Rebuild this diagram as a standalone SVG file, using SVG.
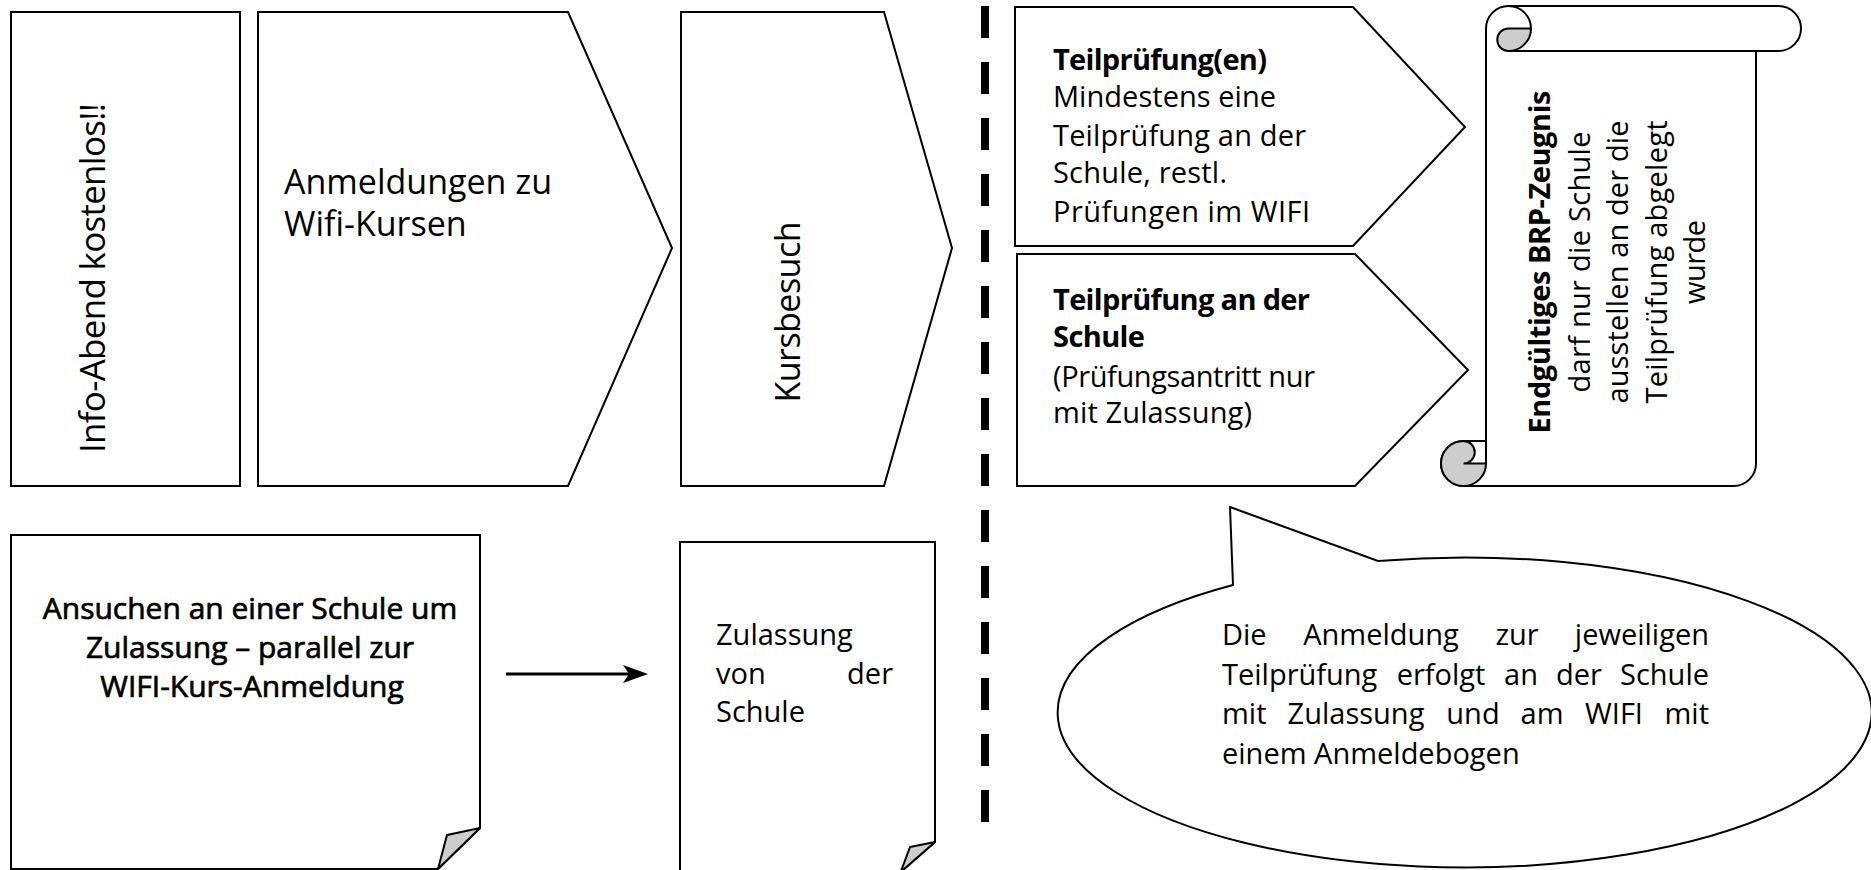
<svg xmlns="http://www.w3.org/2000/svg" width="1871" height="870" viewBox="0 0 1871 870">
<style>
.s{fill:#fff;stroke:#000;stroke-width:2;stroke-linejoin:miter}
.g{fill:#cdcdcd;stroke:#000;stroke-width:2;stroke-linejoin:round}
.ln{fill:none;stroke:#000;stroke-width:2}
.t{font-family:"Open Sans","Noto Sans",sans-serif;font-size:29px;fill:#000}
.b{font-weight:700}
.m{font-size:30px;stroke:#000;stroke-width:0.7px}
.f34{font-size:34px}
.f35{font-size:35px}
.mid{text-anchor:middle}
.end{text-anchor:end}
</style>
<defs>
<marker id="ah" markerUnits="userSpaceOnUse" markerWidth="26" markerHeight="20" refX="9" refY="10" orient="auto">
<path d="M0,1 L25,10 L0,19 L6,10 Z" fill="#000"/>
</marker>
</defs>
<rect width="1871" height="870" fill="#fff"/>

<g id="info">
<rect class="s" x="11" y="12" width="229" height="474"/>
<text class="t f35 mid" transform="translate(105,278) rotate(-90)" textLength="350">Info-Abend kostenlos!!</text>
</g>

<g id="anmeldungen">
<polygon class="s" points="258,12 568,12 672,248 568,486 258,486"/>
<text class="t f34" x="284" y="194">Anmeldungen zu</text>
<text class="t f34" x="284" y="236">Wifi-Kursen</text>
</g>

<g id="kursbesuch">
<polygon class="s" points="681,12 884,12 952,248 884,486 681,486"/>
<text class="t f34 mid" transform="translate(800,312) rotate(-90)" textLength="181">Kursbesuch</text>
</g>

<g id="divider">
<line x1="985" y1="6" x2="985" y2="822" stroke="#000" stroke-width="8" stroke-dasharray="32 24"/>
</g>

<g id="teilpruefungen">
<polygon class="s" points="1015,7 1353,7 1465,127 1353,246 1015,246"/>
<text class="t b" x="1053" y="70" textLength="214">Teilprüfung(en)</text>
<text class="t" x="1053" y="107" textLength="223">Mindestens eine</text>
<text class="t" x="1053" y="146" textLength="253">Teilprüfung an der</text>
<text class="t" x="1053" y="183" textLength="174">Schule, restl.</text>
<text class="t" x="1053" y="222" textLength="257">Prüfungen im WIFI</text>
</g>

<g id="teilpruefung-schule">
<polygon class="s" points="1017,254 1355,254 1468,370 1355,486 1017,486"/>
<text class="t b" x="1053" y="310" textLength="257">Teilprüfung an der</text>
<text class="t b" x="1053" y="347" textLength="92">Schule</text>
<text class="t" x="1053" y="387" textLength="262">(Prüfungsantritt nur</text>
<text class="t" x="1053" y="423" textLength="199">mit Zulassung)</text>
</g>

<g id="zeugnis">
<path class="s" d="M1486,28.5 A22.5,22.5 0 0 1 1508.5,6 L1778.5,6 A22.5,22.5 0 0 1 1778.5,51 L1756,51 L1756,463.5 A22.5,22.5 0 0 1 1733.5,486 L1463.5,486 A22.5,22.5 0 0 1 1441,463.5 A22.5,22.5 0 0 1 1463.5,441 L1486,441 Z"/>
<path class="ln" d="M1508.5,51 L1756,51 M1508.5,6 A22.5,22.5 0 0 1 1531,28.5"/>
<path class="g" d="M1508.5,28.5 L1531,28.5 A22.5,22.5 0 0 1 1508.5,51 A11.25,11.25 0 0 1 1508.5,28.5 Z"/>
<circle class="g" cx="1463.5" cy="463.5" r="22.5"/>
<path class="s" d="M1463.5,441 L1486,441 L1486,463.5 L1463.5,463.5 A11.25,11.25 0 0 0 1463.5,441 Z"/>
<text class="t b mid" transform="translate(1550,262) rotate(-90)" textLength="343">Endgültiges BRP-Zeugnis</text>
<text class="t mid" transform="translate(1590,262) rotate(-90)" textLength="261">darf nur die Schule</text>
<text class="t mid" transform="translate(1628,262) rotate(-90)" textLength="283">ausstellen an der die</text>
<text class="t mid" transform="translate(1667,262) rotate(-90)" textLength="283">Teilprüfung abgelegt</text>
<text class="t mid" transform="translate(1705,262) rotate(-90)" textLength="84">wurde</text>
</g>

<g id="ansuchen">
<polygon class="s" points="11,535 480,535 480,828 438,869 11,869"/>
<polygon class="g" points="480,828 447,835 438,869"/>
<text class="t m mid" x="250" y="619">Ansuchen an einer Schule um</text>
<text class="t m mid" x="250" y="658">Zulassung – parallel zur</text>
<text class="t m mid" x="252" y="697">WIFI-Kurs-Anmeldung</text>
</g>

<g id="zulassung">
<polygon class="s" points="680,542 935,542 935,842 900.7,872 680,872"/>
<polygon class="g" points="935,842 910,847 900.7,872"/>
<text class="t" x="716" y="645">Zulassung</text>
<text class="t" x="716" y="684">von</text>
<text class="t end" x="893" y="684">der</text>
<text class="t" x="716" y="722">Schule</text>
</g>

<g id="hinweis">
<path class="s" d="M1233,585 L1230,507 L1378,561 A407,155 0 1 1 1233,585 Z"/>
<text class="t" x="1222" y="645">Die</text>
<text class="t mid" x="1381" y="645">Anmeldung</text>
<text class="t mid" x="1517" y="645">zur</text>
<text class="t end" x="1709" y="645">jeweiligen</text>
<text class="t" x="1222" y="685">Teilprüfung</text>
<text class="t mid" x="1441" y="685">erfolgt</text>
<text class="t mid" x="1521" y="685">an</text>
<text class="t mid" x="1579" y="685">der</text>
<text class="t end" x="1709" y="685">Schule</text>
<text class="t" x="1222" y="724">mit</text>
<text class="t mid" x="1356" y="724">Zulassung</text>
<text class="t mid" x="1473" y="724">und</text>
<text class="t mid" x="1542" y="724">am</text>
<text class="t mid" x="1614" y="724">WIFI</text>
<text class="t end" x="1709" y="724">mit</text>
<text class="t" x="1222" y="764">einem Anmeldebogen</text>
</g>

<g id="connectors">
<line x1="506" y1="674" x2="632" y2="674" stroke="#000" stroke-width="3" marker-end="url(#ah)"/>
</g>
</svg>
